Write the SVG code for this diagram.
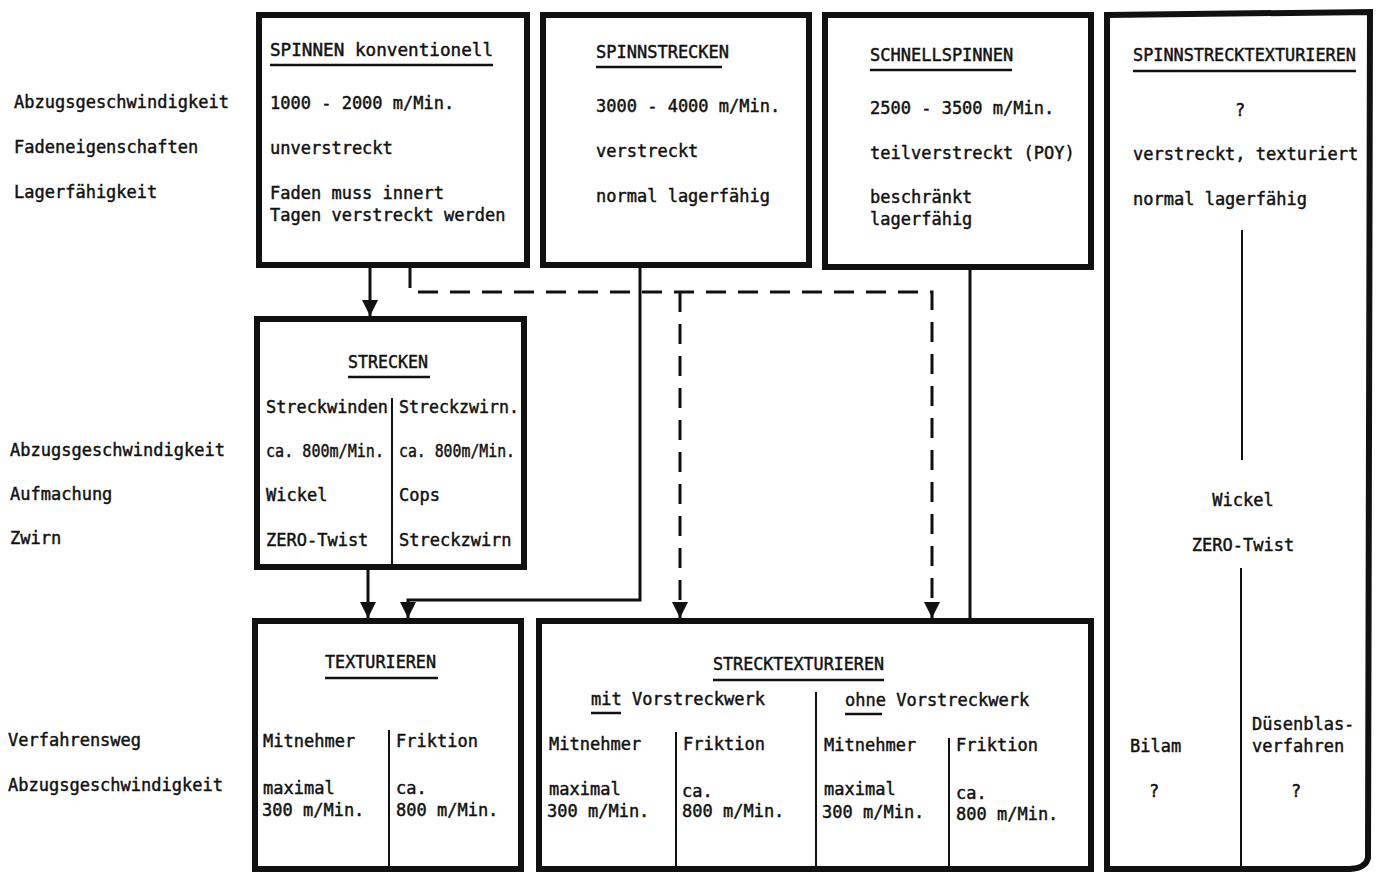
<svg xmlns="http://www.w3.org/2000/svg" width="1380" height="875" viewBox="0 0 1380 875">
<style>
text{font-family:"DejaVu Sans Mono","Liberation Mono",monospace;font-size:17px;fill:#111;stroke:#111;stroke-width:0.45}
.box{fill:#fff;stroke:#111;stroke-width:6}
.ul{stroke:#111;stroke-width:2.5}
.div{stroke:#111;stroke-width:2}
.c{fill:none;stroke:#111;stroke-width:3}
.d{fill:none;stroke:#111;stroke-width:3;stroke-dasharray:20 12}
.m{text-anchor:middle}
</style>
<defs>
<marker id="arr" markerWidth="16" markerHeight="16" refX="16" refY="8" orient="auto" markerUnits="userSpaceOnUse" viewBox="0 0 16 16">
<path d="M0,0 L16,8 L0,16 Z" fill="#111"/>
</marker>
</defs>
<rect width="1380" height="875" fill="#fff"/>

<g id="labels">
<text x="14" y="108">Abzugsgeschwindigkeit</text>
<text x="14" y="153">Fadeneigenschaften</text>
<text x="14" y="198">Lagerfähigkeit</text>
<text x="10" y="456">Abzugsgeschwindigkeit</text>
<text x="10" y="500">Aufmachung</text>
<text x="10" y="544">Zwirn</text>
<text x="8" y="746">Verfahrensweg</text>
<text x="8" y="791">Abzugsgeschwindigkeit</text>
</g>

<g id="connectors">
<path class="c" d="M370,268 V316" marker-end="url(#arr)"/>
<path class="c" d="M368,570 V618" marker-end="url(#arr)"/>
<path class="c" d="M640,268 V600 H408 V618" marker-end="url(#arr)"/>
<path class="c" d="M970,270 V618"/>
<path class="d" d="M410,268 V292 H932 V618" marker-end="url(#arr)"/>
<path class="d" d="M680,292 V618" marker-end="url(#arr)"/>
</g>

<g id="spinnen">
<rect class="box" x="259" y="15" width="268" height="250"/>
<text x="270" y="56" textLength="223" lengthAdjust="spacingAndGlyphs">SPINNEN  konventionell</text>
<line class="ul" x1="270" y1="65" x2="493" y2="65"/>
<text x="270" y="109">1000 - 2000 m/Min.</text>
<text x="270" y="154">unverstreckt</text>
<text x="270" y="199">Faden muss innert</text>
<text x="270" y="221">Tagen verstreckt werden</text>
</g>

<g id="spinnstrecken">
<rect class="box" x="543" y="15" width="266" height="250"/>
<text x="596" y="58">SPINNSTRECKEN</text>
<line class="ul" x1="596" y1="67" x2="722" y2="67"/>
<text x="596" y="112">3000 - 4000 m/Min.</text>
<text x="596" y="157">verstreckt</text>
<text x="596" y="202">normal lagerfähig</text>
</g>

<g id="schnellspinnen">
<rect class="box" x="825" y="15" width="266" height="252"/>
<text x="870" y="61">SCHNELLSPINNEN</text>
<line class="ul" x1="870" y1="70" x2="1012" y2="70"/>
<text x="870" y="114">2500 - 3500 m/Min.</text>
<text x="870" y="159">teilverstreckt (POY)</text>
<text x="870" y="203">beschränkt</text>
<text x="870" y="225">lagerfähig</text>
</g>

<g id="spinnstrecktexturieren">
<path class="box" d="M1107,15 L1370,12 L1368,858 Q1366,868 1350,869 L1107,869 Z"/>
<text x="1133" y="61" textLength="223" lengthAdjust="spacingAndGlyphs">SPINNSTRECKTEXTURIEREN</text>
<line class="ul" x1="1133" y1="71" x2="1356" y2="71"/>
<text x="1240" y="116" class="m">?</text>
<text x="1133" y="160">verstreckt, texturiert</text>
<text x="1133" y="205">normal lagerfähig</text>
<line class="div" x1="1242" y1="230" x2="1242" y2="460"/>
<text x="1243" y="506" class="m">Wickel</text>
<text x="1243" y="551" class="m">ZERO-Twist</text>
<line class="div" x1="1241" y1="568" x2="1241" y2="869"/>
<text x="1130" y="752">Bilam</text>
<text x="1154" y="797" class="m">?</text>
<text x="1252" y="730">Düsenblas-</text>
<text x="1252" y="752">verfahren</text>
<text x="1296" y="797" class="m">?</text>
</g>

<g id="strecken">
<rect class="box" x="257" y="319" width="267" height="248"/>
<text x="348" y="368" textLength="80" lengthAdjust="spacingAndGlyphs">STRECKEN</text>
<line class="ul" x1="348" y1="377" x2="430" y2="377"/>
<line class="div" x1="392" y1="398" x2="392" y2="567"/>
<text x="266" y="413" textLength="122" lengthAdjust="spacingAndGlyphs">Streckwinden</text>
<text x="399" y="413" textLength="120" lengthAdjust="spacingAndGlyphs">Streckzwirn.</text>
<text x="266" y="457" textLength="118" lengthAdjust="spacingAndGlyphs">ca. 800m/Min.</text>
<text x="399" y="457" textLength="116" lengthAdjust="spacingAndGlyphs">ca. 800m/Min.</text>
<text x="266" y="501">Wickel</text>
<text x="399" y="501">Cops</text>
<text x="266" y="546">ZERO-Twist</text>
<text x="399" y="546">Streckzwirn</text>
</g>

<g id="texturieren">
<rect class="box" x="255" y="621" width="266" height="248"/>
<text x="325" y="668" textLength="111" lengthAdjust="spacingAndGlyphs">TEXTURIEREN</text>
<line class="ul" x1="325" y1="678" x2="438" y2="678"/>
<line class="div" x1="389" y1="730" x2="389" y2="869"/>
<text x="263" y="747">Mitnehmer</text>
<text x="396" y="747">Friktion</text>
<text x="263" y="794">maximal</text>
<text x="262" y="816">300 m/Min.</text>
<text x="396" y="794">ca.</text>
<text x="396" y="816">800 m/Min.</text>
</g>

<g id="strecktexturieren">
<rect class="box" x="539" y="621" width="552" height="248"/>
<text x="713" y="670" textLength="171" lengthAdjust="spacingAndGlyphs">STRECKTEXTURIEREN</text>
<line class="ul" x1="713" y1="680" x2="884" y2="680"/>
<line class="div" x1="816" y1="692" x2="816" y2="869"/>
<text x="591" y="705">mit Vorstreckwerk</text>
<line class="ul" x1="591" y1="713" x2="621" y2="713"/>
<text x="845" y="706">ohne Vorstreckwerk</text>
<line class="ul" x1="845" y1="714" x2="882" y2="714"/>
<line class="div" x1="676" y1="732" x2="676" y2="869"/>
<text x="549" y="750">Mitnehmer</text>
<text x="683" y="750">Friktion</text>
<text x="549" y="795">maximal</text>
<text x="547" y="817">300 m/Min.</text>
<text x="682" y="797">ca.</text>
<text x="682" y="817">800 m/Min.</text>
<line class="div" x1="949" y1="738" x2="949" y2="869"/>
<text x="824" y="751">Mitnehmer</text>
<text x="956" y="751">Friktion</text>
<text x="824" y="795">maximal</text>
<text x="822" y="818">300 m/Min.</text>
<text x="956" y="799">ca.</text>
<text x="956" y="820">800 m/Min.</text>
</g>
</svg>
